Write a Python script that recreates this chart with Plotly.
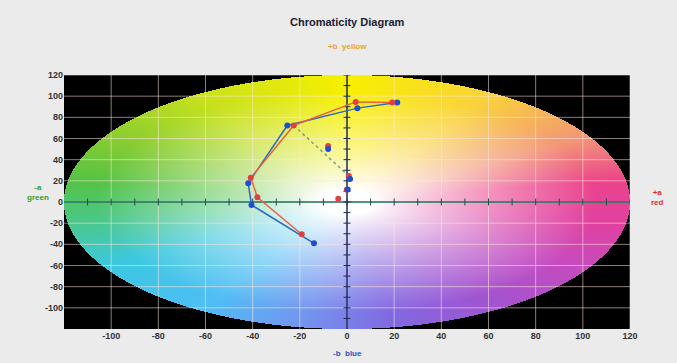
import numpy as np
import plotly.graph_objects as go

# ---- data (a*, b*) ----
blue_a = [-14.0, -40.5, -41.9, -25.3, 4.4, 21.3]
blue_b = [-39.0, -2.8, 17.6, 72.3, 88.7, 94.0]
red_a = [-19.2, -38.0, -40.8, -22.6, 3.7, 19.2]
red_b = [-30.5, 4.4, 22.9, 72.3, 94.6, 94.0]
red_pts_a = [-8.0, 0.8, -0.1, -3.7]
red_pts_b = [52.8, 24.5, 11.5, 3.1]
blue_pts_a = [-8.0, 1.3, 0.3]
blue_pts_b = [50.0, 21.7, 11.8]
dotted_a = [-22.6, 0.8]
dotted_b = [72.3, 24.5]
tick_vals = [-100, -80, -60, -40, -20, 0, 20, 40, 60, 80, 100, 120]
tick_text = [str(v) for v in tick_vals]
minor_ticks = list(range(-110, 121, 10))

LIM = 120

# ---- background colour ellipse ----
nx, ny = 566, 254
dx = 2 * LIM / nx
dy = 2 * LIM / ny
xs = -LIM + dx / 2 + dx * np.arange(nx)
ys = -LIM + dy / 2 + dy * np.arange(ny)
A, B = np.meshgrid(xs, ys)
r = np.sqrt((A / LIM) ** 2 + (B / LIM) ** 2)
ang = (np.degrees(np.arctan2(B, A)) + 360) % 360

stops = [
    (10, (236, 68, 140)),
    (31, (243, 150, 120)),
    (59, (250, 210, 60)),
    (90, (248, 240, 0)),
    (122, (200, 225, 30)),
    (149, (135, 205, 50)),
    (170, (85, 195, 70)),
    (190, (75, 200, 140)),
    (211, (60, 200, 225)),
    (239, (80, 190, 245)),
    (260, (115, 150, 240)),
    (280, (130, 105, 225)),
    (301, (160, 85, 210)),
    (329, (200, 75, 190)),
    (350, (225, 65, 160)),
]
sa = np.array([s[0] for s in stops] + [stops[0][0] + 360], dtype=float)
sc = np.array([s[1] for s in stops] + [stops[0][1]], dtype=float)
ang2 = np.where(ang < sa[0], ang + 360, ang)
img = np.zeros((ny, nx, 3))
for c in range(3):
    img[..., c] = np.interp(ang2, sa, sc[:, c])
s = np.clip((r - 0.1) / 0.78, 0, 1) ** 0.85
img = 255 * (1 - s[..., None]) + img * s[..., None]
img[r > 1] = 0
img = img.astype(np.uint8)

fig = go.Figure()
fig.add_trace(go.Image(z=img, x0=xs[0], y0=ys[0], dx=dx, dy=dy, hoverinfo="skip"))

# grid lines above the image
gx, gy = [], []
for v in tick_vals:
    gx += [v, v, None]
    gy += [-LIM, LIM, None]
    gx += [-LIM, LIM, None]
    gy += [v, v, None]
fig.add_trace(go.Scatter(x=gx, y=gy, mode="lines",
                         line=dict(color="rgba(255,232,222,0.55)", width=1),
                         hoverinfo="skip", showlegend=False))

# axis lines through origin
fig.add_trace(go.Scatter(x=[-LIM, LIM], y=[0, 0], mode="lines",
                         line=dict(color="#1f6e5a", width=1.5), hoverinfo="skip", showlegend=False))
fig.add_trace(go.Scatter(x=[0, 0], y=[-LIM, LIM], mode="lines",
                         line=dict(color="#1c2a5a", width=1.5), hoverinfo="skip", showlegend=False))
fig.add_trace(go.Scatter(x=minor_ticks, y=[0] * len(minor_ticks), mode="markers",
                         marker=dict(symbol="line-ns", size=5, line=dict(color="#1f4e4a", width=1)),
                         hoverinfo="skip", showlegend=False))
fig.add_trace(go.Scatter(x=[0] * len(minor_ticks), y=minor_ticks, mode="markers",
                         marker=dict(symbol="line-ew", size=5, line=dict(color="#1c2a5a", width=1)),
                         hoverinfo="skip", showlegend=False))

# dotted trend
fig.add_trace(go.Scatter(x=dotted_a, y=dotted_b, mode="lines",
                         line=dict(color="rgba(90,130,130,0.75)", width=1.5, dash="dot"),
                         showlegend=False))

# series
fig.add_trace(go.Scatter(x=blue_a, y=blue_b, mode="lines+markers",
                         line=dict(color="#2c6ac0", width=1.5),
                         marker=dict(color="#1f4fd0", size=6), showlegend=False))
fig.add_trace(go.Scatter(x=red_a, y=red_b, mode="lines+markers",
                         line=dict(color="#e8643c", width=1.5),
                         marker=dict(color="#e04040", size=6), showlegend=False))
fig.add_trace(go.Scatter(x=red_pts_a, y=red_pts_b, mode="markers",
                         marker=dict(color="#e04040", size=6), showlegend=False))
fig.add_trace(go.Scatter(x=blue_pts_a, y=blue_pts_b, mode="markers",
                         marker=dict(color="#1f4fd0", size=6), showlegend=False))

axis_common = dict(range=[-LIM, LIM], autorange=False, showgrid=False, zeroline=False,
                   tickvals=tick_vals, ticktext=tick_text, ticks="", showline=False,
                   tickfont=dict(family="Liberation Sans", size=9, color="#333333", weight="bold"))
fig.update_xaxes(**axis_common, constrain="range")
fig.update_yaxes(**axis_common, scaleanchor=False, constrain="range")

fig.update_layout(
    width=677, height=363,
    margin=dict(l=64, r=47, t=75, b=34),
    paper_bgcolor="#ebebeb", plot_bgcolor="black",
    font=dict(family="Liberation Sans"),
    annotations=[
        dict(text="<b>Chromaticity Diagram</b>", xref="paper", yref="paper", x=0.5, y=1,
             yshift=61, showarrow=False, font=dict(size=11, color="#202030")),
        dict(text="<b>+b  yellow</b>", xref="paper", yref="paper", x=0.5, y=1,
             yshift=35, showarrow=False, font=dict(size=8, color="#f0a020")),
        dict(text="<b>-b  blue</b>", xref="paper", yref="paper", x=0.5, y=0,
             yshift=-31, showarrow=False, font=dict(size=8, color="#3050c8")),
        dict(text="<b>-a<br>green</b>", xref="paper", yref="y", x=0, y=0,
             xshift=-39, yshift=10, showarrow=False, font=dict(size=8, color="#30a030")),
        dict(text="<b>+a<br>red</b>", xref="paper", yref="y", x=1, y=0,
             xshift=36, yshift=5, showarrow=False, font=dict(size=8, color="#e03030")),
    ],
)

fig.write_html("out.html", config={"displayModeBar": False},
               post_script="document.body.style.margin='0';document.body.style.background='#ebebeb';")
